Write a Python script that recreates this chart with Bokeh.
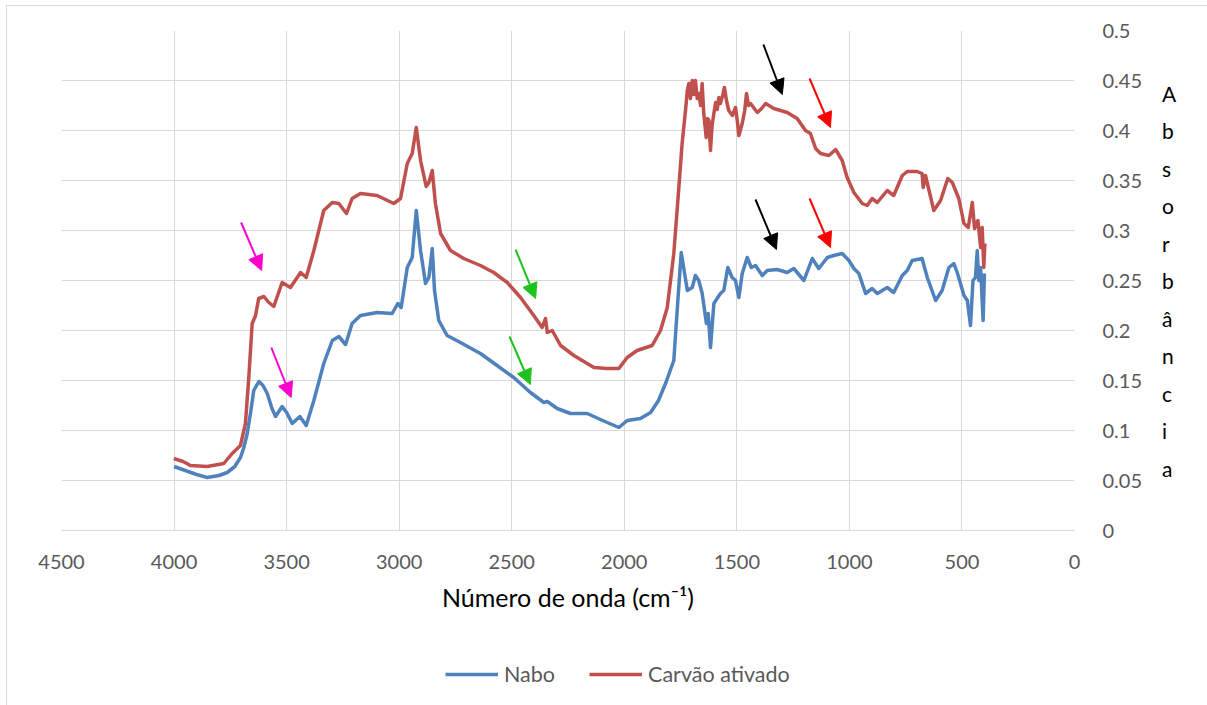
from bokeh.plotting import figure
from bokeh.layouts import column
from bokeh.models import (Range1d, FixedTicker, Legend, LegendItem, Arrow, NormalHead)
from bokeh.embed import file_html
from bokeh.resources import INLINE

FONT = "Lato"

# Nabo (blue) spectrum: wavenumber (cm-1) and absorbance
nabo_x = [4000, 3950, 3900, 3853, 3800, 3764, 3730, 3705, 3690, 3675, 3660, 3646,
          3623, 3605, 3586, 3565, 3549, 3520, 3500, 3475, 3441, 3413, 3379, 3335,
          3297, 3268, 3238, 3209, 3172, 3098, 3031, 3006, 2991, 2964, 2942, 2924,
          2905, 2883, 2868, 2853, 2843, 2824, 2787, 2728, 2639, 2565, 2491, 2417,
          2357, 2342, 2298, 2239, 2165, 2076, 2024, 1987, 1928, 1883, 1848, 1815,
          1780, 1762, 1747, 1732, 1720, 1698, 1684, 1669, 1654, 1635, 1627, 1617,
          1602, 1573, 1558, 1540, 1521, 1506, 1491, 1476, 1454, 1436, 1417, 1387,
          1365, 1321, 1276, 1247, 1202, 1165, 1136, 1098, 1069, 1032, 1002, 980,
          958, 928, 899, 876, 832, 803, 765, 743, 721, 677, 654, 617, 588, 558,
          536, 521, 491, 476, 462, 451, 440, 432, 425, 417, 406, 400]
nabo_y = [0.064, 0.060, 0.056, 0.053, 0.055, 0.058, 0.064, 0.073, 0.083, 0.097, 0.118, 0.140,
          0.149, 0.145, 0.137, 0.122, 0.114, 0.124, 0.118, 0.107, 0.114, 0.105, 0.130, 0.167,
          0.190, 0.194, 0.186, 0.207, 0.215, 0.218, 0.217, 0.227, 0.223, 0.263, 0.273, 0.320,
          0.280, 0.247, 0.253, 0.282, 0.240, 0.210, 0.195, 0.188, 0.177, 0.165, 0.153, 0.138,
          0.128, 0.129, 0.122, 0.117, 0.117, 0.108, 0.103, 0.110, 0.112, 0.118, 0.130, 0.148,
          0.170, 0.230, 0.278, 0.257, 0.240, 0.243, 0.255, 0.250, 0.237, 0.207, 0.217, 0.183,
          0.227, 0.237, 0.240, 0.263, 0.253, 0.250, 0.233, 0.257, 0.273, 0.263, 0.265, 0.255,
          0.260, 0.261, 0.258, 0.262, 0.250, 0.272, 0.262, 0.273, 0.275, 0.277, 0.270, 0.262,
          0.257, 0.237, 0.242, 0.237, 0.243, 0.238, 0.255, 0.260, 0.270, 0.272, 0.253, 0.230, 0.240, 0.263,
          0.267, 0.258, 0.235, 0.230, 0.205, 0.250, 0.253, 0.280, 0.250, 0.263, 0.210, 0.257]

# Carvão ativado (red) spectrum
carvao_x = [4001, 3960, 3927, 3853, 3779, 3742, 3705, 3683, 3668, 3653, 3638, 3624,
            3601, 3579, 3557, 3520, 3483, 3438, 3413, 3379, 3335, 3297, 3268, 3234,
            3209, 3172, 3098, 3024, 2994, 2964, 2942, 2924, 2905, 2880, 2868, 2853,
            2839, 2816, 2772, 2713, 2639, 2580, 2520, 2461, 2402, 2365, 2350, 2342,
            2320, 2283, 2224, 2135, 2076, 2024, 1987, 1943, 1876, 1839, 1809, 1780,
            1762, 1743, 1728, 1720, 1713, 1706, 1698, 1691, 1684, 1676, 1669, 1661,
            1654, 1647, 1640, 1636, 1630, 1624, 1617, 1610, 1602, 1594, 1587, 1580,
            1573, 1562, 1555, 1546, 1536, 1520, 1506, 1498, 1491, 1476, 1465, 1457,
            1448, 1439, 1409, 1390, 1372, 1336, 1276, 1232, 1195, 1173, 1150, 1128,
            1091, 1061, 1032, 1010, 980,
            943, 921, 899, 876, 832, 803, 765, 743, 699, 677, 672, 662, 625, 595,
            563, 543, 514, 491, 472, 454, 444, 429, 417, 410, 403, 398]
carvao_y = [0.072, 0.069, 0.065, 0.064, 0.067, 0.077, 0.085, 0.107, 0.153, 0.207, 0.215, 0.232,
            0.234, 0.228, 0.224, 0.248, 0.243, 0.258, 0.253, 0.280, 0.320, 0.328, 0.327, 0.317,
            0.332, 0.337, 0.335, 0.327, 0.332, 0.367, 0.377, 0.403, 0.370, 0.344, 0.348, 0.360,
            0.327, 0.297, 0.280, 0.272, 0.265, 0.258, 0.248, 0.233, 0.215, 0.203, 0.212, 0.198,
            0.200, 0.185, 0.175, 0.163, 0.162, 0.162, 0.173, 0.180, 0.185, 0.200, 0.223, 0.277,
            0.330, 0.387, 0.420, 0.440, 0.447, 0.432, 0.450, 0.436, 0.450, 0.432, 0.437, 0.425,
            0.447, 0.417, 0.402, 0.393, 0.412, 0.410, 0.380, 0.405, 0.417, 0.428, 0.421, 0.433,
            0.427, 0.436, 0.443, 0.430, 0.420, 0.415, 0.423, 0.410, 0.395, 0.407, 0.420, 0.437,
            0.425, 0.427, 0.418, 0.422, 0.427, 0.422, 0.418, 0.412, 0.400, 0.397, 0.382, 0.377,
            0.375, 0.381, 0.370, 0.353, 0.338,
            0.327, 0.325, 0.332, 0.328, 0.340, 0.335, 0.355, 0.359, 0.359, 0.357, 0.343, 0.355, 0.320, 0.330,
            0.352, 0.348, 0.332, 0.307, 0.303, 0.328, 0.302, 0.310, 0.283, 0.303, 0.263, 0.287]

series_names = ["Nabo", "Carvão ativado"]

x_ticks = [4500, 4000, 3500, 3000, 2500, 2000, 1500, 1000, 500, 0]
y_ticks = [0, 0.05, 0.1, 0.15, 0.2, 0.25, 0.3, 0.35, 0.4, 0.45, 0.5]
y_tick_labels = ["0", "0.05", "0.1", "0.15", "0.2", "0.25", "0.3", "0.35", "0.4", "0.45", "0.5"]

# annotation arrows: (x_start, y_start, x_end, y_end, colour)
arrows = [
    (3702, 0.308, 3611, 0.260, "#FF00CC"),
    (3568, 0.183, 3480, 0.133, "#FF00CC"),
    (2483, 0.281, 2394, 0.232, "#1DC21D"),
    (2510, 0.194, 2417, 0.146, "#1DC21D"),
    (1382, 0.486, 1298, 0.436, "#000000"),
    (1417, 0.331, 1324, 0.281, "#000000"),
    (1177, 0.452, 1084, 0.403, "#FF0000"),
    (1177, 0.332, 1084, 0.283, "#FF0000"),
]

x_title = "Número de onda (cm⁻¹)"
y_title = "Absorbância"

BLUE = "#4F81BD"
RED = "#C0504D"
GRID = "#D9D9D9"

# ---------------- main chart ----------------
p = figure(width=1200, height=634, frame_width=1013, frame_height=500,
           min_border_left=54, min_border_right=133, min_border_top=24, min_border_bottom=110,
           x_range=Range1d(4500, 0), y_range=Range1d(0, 0.5),
           output_backend="svg", toolbar_location=None, tools="",
           x_axis_location="below", y_axis_location="right")
p.outline_line_color = None
p.background_fill_color = "white"
p.border_fill_color = "white"

p.xaxis.ticker = FixedTicker(ticks=x_ticks)
p.yaxis.ticker = FixedTicker(ticks=y_ticks)
p.yaxis.major_label_overrides = {t: s for t, s in zip(y_ticks, y_tick_labels)}
p.xaxis.major_label_overrides = {t: str(t) for t in x_ticks}

for ax in [p.xaxis[0], p.yaxis[0]]:
    ax.major_tick_line_color = None
    ax.minor_tick_line_color = None
    ax.major_label_text_font = FONT
    ax.major_label_text_font_size = "20px"
    ax.major_label_text_color = "#595959"
    ax.axis_label_text_font = FONT
    ax.axis_label_text_font_style = "normal"
    ax.axis_label_text_color = "#000000"
p.xaxis.axis_line_color = GRID
p.yaxis.axis_line_color = None
p.xaxis.major_label_standoff = 18
p.yaxis.major_label_standoff = 22
p.xaxis.axis_label = x_title
p.xaxis.axis_label_text_font_size = "25px"
p.xaxis.axis_label_standoff = 10

# stacked vertical title on the right
p.yaxis.axis_label = "\n".join(y_title)
p.yaxis.axis_label_orientation = "horizontal"
p.yaxis.axis_label_text_font_size = "21px"
p.yaxis.axis_label_text_line_height = 1.5
p.yaxis.axis_label_text_align = "center"
p.yaxis.axis_label_standoff = 17

p.xgrid.grid_line_color = GRID
p.ygrid.grid_line_color = GRID
p.xgrid.ticker = FixedTicker(ticks=x_ticks)
p.ygrid.ticker = FixedTicker(ticks=y_ticks)

p.line(nabo_x, nabo_y, line_color=BLUE, line_width=3.5, line_join="round")
p.line(carvao_x, carvao_y, line_color=RED, line_width=3.5, line_join="round")

for xs, ys, xe, ye, c in arrows:
    p.add_layout(Arrow(end=NormalHead(size=15, fill_color=c, line_color=c, line_width=1),
                       x_start=xs, y_start=ys, x_end=xe, y_end=ye,
                       line_color=c, line_width=2))

# ---------------- legend strip ----------------
# the proxy lines hold the same data, which lies outside this strip's ranges (only the legend shows)
lg = figure(width=1200, height=65, min_border=0,
            min_border_left=0, min_border_right=0, min_border_top=0, min_border_bottom=0,
            x_range=Range1d(-2, -1), y_range=Range1d(-2, -1),
            output_backend="svg", toolbar_location=None, tools="",
            x_axis_location=None, y_axis_location=None)
lg.outline_line_color = None
lg.xgrid.visible = False
lg.ygrid.visible = False
lr1 = lg.line(nabo_x, nabo_y, line_color=BLUE, line_width=3.5)
lr2 = lg.line(carvao_x, carvao_y, line_color=RED, line_width=3.5)
legend = Legend(items=[LegendItem(label=series_names[0], renderers=[lr1]),
                       LegendItem(label=series_names[1], renderers=[lr2])],
                orientation="horizontal", location=(384, 18),
                label_text_font=FONT, label_text_font_size="21.5px", label_text_color="#595959",
                glyph_width=53, glyph_height=20, label_height=20, label_standoff=6, spacing=34,
                padding=0, margin=0, border_line_color=None, background_fill_alpha=0)
lg.add_layout(legend, "center")

layout = column(p, lg, spacing=0)
layout.margin = (5, 0, 0, 6)
layout.styles = {"border-left": "1px solid #D9D9D9", "border-top": "1px solid #D9D9D9"}

open("out.html", "w").write(file_html(layout, INLINE))
